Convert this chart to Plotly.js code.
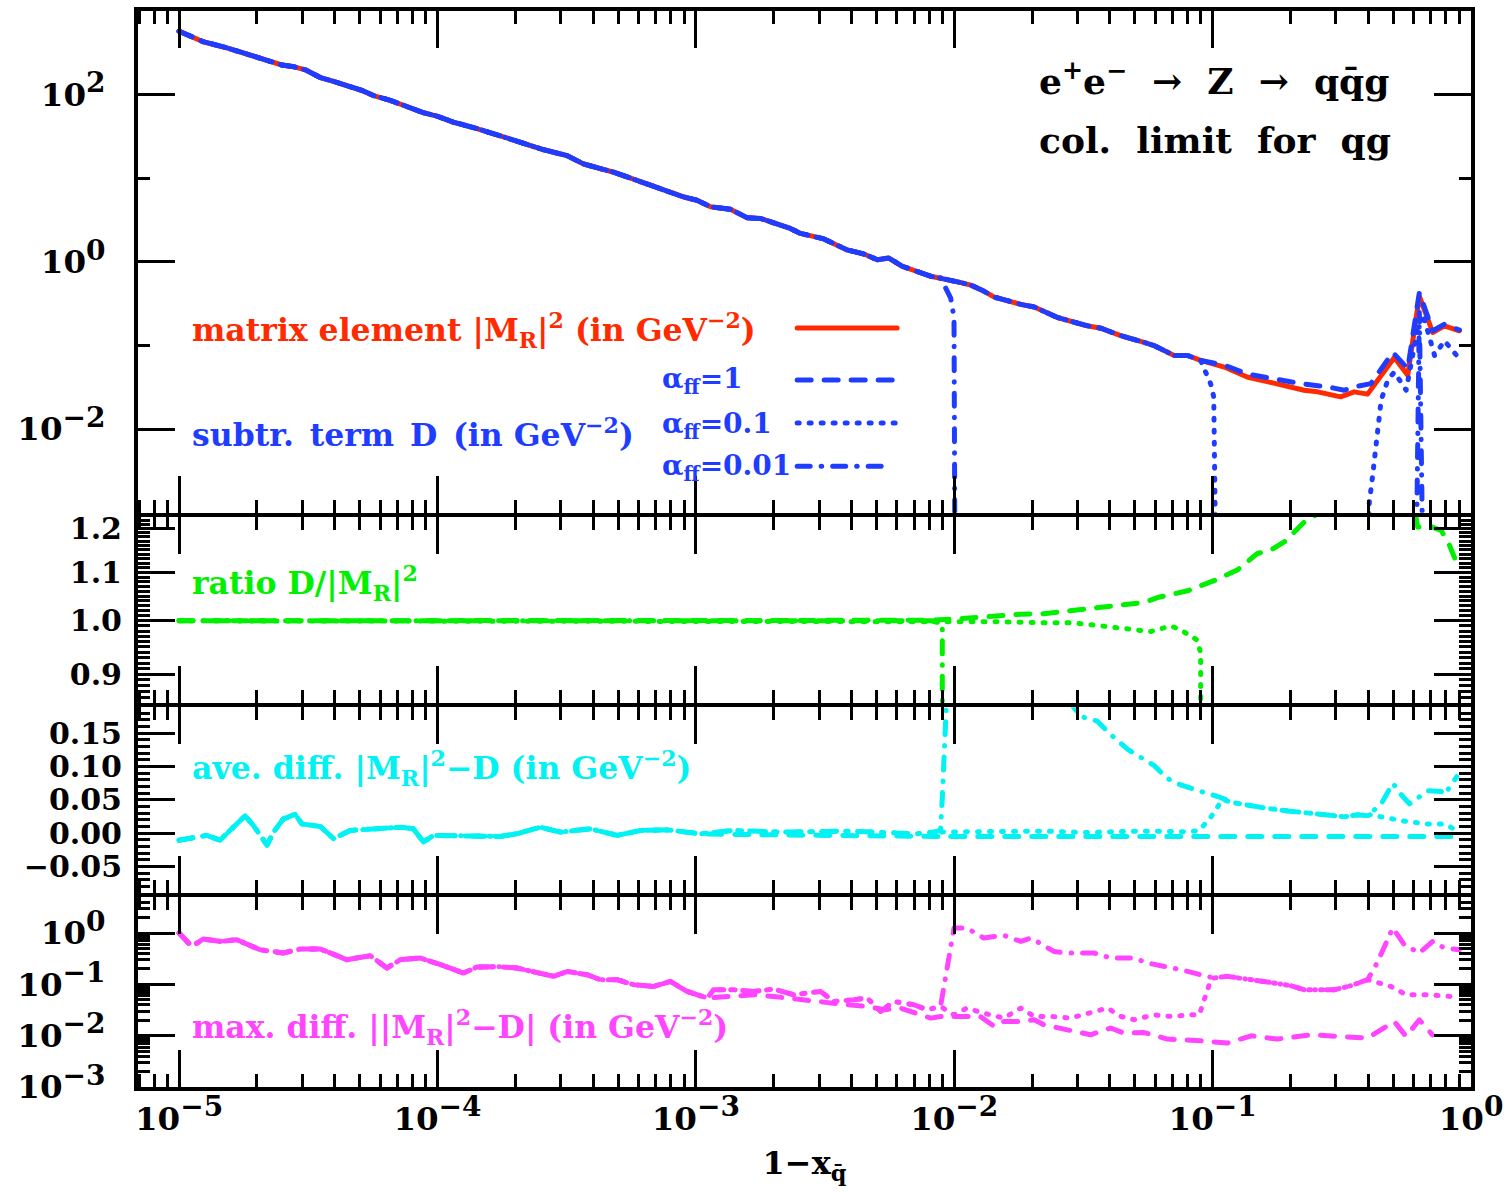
<!DOCTYPE html>
<html>
<head>
<meta charset="utf-8">
<script src="https://cdn.plot.ly/plotly-3.0.1.min.js"></script>
<style>
  html, body { margin: 0; padding: 0; background: #fff; }
  #chart { width: 1510px; height: 1192px; }
  #chart .js-line, #chart .shapelayer path { stroke-linecap: round; stroke-linejoin: round; }
</style>
</head>
<body>
<div id="chart"></div>
<script>
// ---------- panel 1: |M_R|^2 and subtraction term D (GeV^-2) ----------
const meX = [1.00e-5, 1.24e-5, 1.53e-5, 1.83e-5, 2.00e-5, 2.50e-5, 2.77e-5, 3.08e-5, 3.52e-5, 3.96e-5,
  5.11e-5, 5.66e-5, 6.56e-5, 8.83e-5, 9.95e-5, 1.15e-4, 1.30e-4, 1.42e-4, 1.75e-4, 2.29e-4,
  2.58e-4, 3.18e-4, 3.68e-4, 4.81e-4, 5.93e-4, 7.08e-4, 8.97e-4, 1.01e-3, 1.14e-3, 1.36e-3,
  1.58e-3, 1.78e-3, 2.32e-3, 2.54e-3, 3.13e-3, 3.85e-3, 4.47e-3, 5.04e-3, 5.58e-3, 6.30e-3,
  7.19e-3, 8.11e-3, 1.03e-2, 1.16e-2, 1.30e-2, 1.43e-2, 1.81e-2, 2.04e-2, 2.51e-2, 3.27e-2,
  3.69e-2, 4.41e-2, 5.43e-2, 5.93e-2, 7.10e-2, 8.00e-2, 8.99e-2, 0.111, 0.136, 0.178,
  0.226, 0.255, 0.313, 0.353, 0.398, 0.505, 0.569, 0.631, 0.711, 0.789, 0.902];
const meY = [573, 429, 363, 312, 280, 226, 216, 198, 160, 144,
  112, 97.3, 85.5, 60.7, 55.3, 47.0, 43.0, 39.3, 32.1, 24.4,
  21.9, 18.6, 14.8, 11.8, 9.40, 7.85, 5.97, 5.45, 4.55, 4.26,
  3.37, 3.30, 2.51, 2.19, 1.88, 1.39, 1.24, 1.06, 1.11, 0.885,
  0.771, 0.673, 0.577, 0.527, 0.447, 0.379, 0.310, 0.289, 0.216, 0.172,
  0.161, 0.131, 0.109, 0.0998, 0.0759, 0.0759, 0.0662, 0.0552, 0.0420, 0.0350,
  0.0292, 0.0279, 0.0243, 0.0279, 0.0262, 0.0718, 0.0440, 0.390, 0.143, 0.172, 0.150];

// D follows |M_R|^2 at small 1-x; these are the parts where it departs
const dA1TailX = [0.111, 0.136, 0.178, 0.219, 0.279, 0.323, 0.364, 0.410, 0.498, 0.569, 0.631, 0.711, 0.789, 0.902];
const dA1TailY = [0.0582, 0.0456, 0.0390, 0.0350, 0.0320, 0.0292, 0.0326, 0.0350, 0.0830, 0.0527, 0.427, 0.150, 0.180, 0.153];
const dA01TailX = [0.0982, 0.101, 0.111, 0.398, 0.404, 0.416, 0.435, 0.449, 0.476, 0.505, 0.561, 0.587, 0.623, 0.652, 0.723, 0.789, 0.902];
const dA01TailY = [0.0350, 0.0243, 0, 0, 1.32e-3, 2.74e-3, 0.0107, 0.0222, 0.0384, 0.0481, 0.0292, 0.0663, 0.164, 0.236, 0.0759, 0.114, 0.0692];
const dA001TailX = [8.85e-3, 9.68e-3, 9.98e-3, 1.03e-2, 0.569, 0.631, 0.711, 0.902];
const dA001TailY = [0.643, 0.372, 0.216, 0, 0, 0.25, 0, 0];

// ---------- panel 2: ratio D/|M_R|^2 ----------
const rA1X = [1e-5, 1e-4, 1e-3, 5e-3, 8.11e-3, 1.03e-2, 0.0151, 0.0181, 0.0222, 0.0318, 0.0403, 0.0543, 0.0612, 0.0800,
  0.104, 0.125, 0.149, 0.168, 0.190, 0.207, 0.226, 0.255, 0.313, 0.398, 0.505, 0.569, 0.622, 0.681, 0.767, 0.825, 0.864, 0.902];
const rA1Y = [1.000, 1.000, 1.000, 1.000, 1.001, 1.004, 1.011, 1.013, 1.014, 1.024, 1.031, 1.037, 1.047, 1.061,
  1.085, 1.106, 1.142, 1.150, 1.169, 1.191, 1.215, 1.235, 1.26, 1.32, 1.30, 1.35, 1.203, 1.207, 1.195, 1.161, 1.128, 1.106];
const rA01X = [1e-5, 1e-4, 1e-3, 5e-3, 8.11e-3, 1.03e-2, 0.0151, 0.0222, 0.0290, 0.0328, 0.0393, 0.0513, 0.0576, 0.0689, 0.0753, 0.0870, 0.0899, 0.0905];
const rA01Y = [1.000, 1.000, 1.000, 1.000, 1.000, 0.999, 0.998, 0.996, 0.996, 0.993, 0.988, 0.983, 0.979, 0.990, 0.982, 0.963, 0.939, 0];
const rA001X = [1e-5, 1e-4, 1e-3, 5e-3, 8.11e-3, 8.99e-3, 9.10e-3];
const rA001Y = [1.000, 1.000, 1.000, 1.000, 1.000, 0.995, 0];

// ---------- panel 3: average difference |M_R|^2 - D ----------
const aveX = [1.00e-5, 1.28e-5, 1.44e-5, 1.62e-5, 1.80e-5, 1.94e-5, 2.19e-5, 2.32e-5, 2.53e-5, 2.81e-5,
  2.99e-5, 3.52e-5, 3.96e-5, 4.59e-5, 5.33e-5, 7.18e-5, 8.06e-5, 8.83e-5, 9.66e-5, 1.30e-4,
  1.75e-4, 2.03e-4, 2.50e-4, 2.99e-4, 3.91e-4, 4.96e-4, 6.10e-4, 7.74e-4, 1.04e-3];
const aveY = [-0.0107, -0.0034, -0.0107, 0.0088, 0.0260, 0.0113, -0.0180, 0.0015, 0.0210, 0.0283,
  0.0137, 0.0100, -0.0083, 0.0040, 0.0054, 0.0088, 0.0066, -0.0132, -0.0034, -0.0034,
  -0.0050, -0.0010, 0.0088, 0.0015, 0.0064, -0.0034, 0.0040, 0.0049, -0.0010];
const aveA1TailX = [1.40e-3, 2.19e-3, 3.97e-3, 8.34e-3, 1.51e-2, 3.18e-2, 0.104, 0.313, 0.881];
const aveA1TailY = [-0.002, -0.003, -0.004, -0.005, -0.005, -0.005, -0.005, -0.005, -0.005];
const aveA01TailX = [1.40e-3, 2.19e-3, 3.97e-3, 7.19e-3, 8.34e-3, 1.51e-2, 2.22e-2, 3.18e-2, 5.43e-2, 8.00e-2,
  8.88e-2, 0.0982, 0.109, 0.121, 0.141, 0.163, 0.195, 0.240, 0.296, 0.323,
  0.364, 0.398, 0.410, 0.448, 0.561, 0.681, 0.789, 0.881];
const aveA01TailY = [0.004, 0.0015, 0.003, -0.001, 0.0015, 0.002, 0.003, 0.001, 0.003, 0.002,
  0.004, 0.0235, 0.050, 0.0455, 0.0406, 0.0371, 0.0333, 0.0293, 0.0260, 0.0245,
  0.0274, 0.0260, 0.028, 0.0245, 0.0176, 0.0137, 0.0137, 0.004];
const aveA001TailX = [1.40e-3, 2.19e-3, 3.97e-3, 7.19e-3, 8.34e-3, 8.85e-3, 8.99e-3, 9.27e-3, 1.03e-2, 1.43e-2,
  2.04e-2, 2.51e-2, 2.86e-2, 3.09e-2, 3.58e-2, 4.03e-2, 4.68e-2, 5.27e-2, 5.93e-2, 6.68e-2,
  7.53e-2, 8.99e-2, 0.104, 0.121, 0.141, 0.163, 0.195, 0.240, 0.296, 0.323,
  0.364, 0.398, 0.410, 0.448, 0.498, 0.537, 0.578, 0.681, 0.767, 0.789, 0.881];
const aveA001TailY = [0.004, 0.0015, 0.003, -0.001, 0.0015, 0.0044, 0.0528, 0.111, 0.58, 0.38,
  0.29, 0.22, 0.190, 0.175, 0.168, 0.148, 0.126, 0.114, 0.1016, 0.0821,
  0.0723, 0.0626, 0.0553, 0.0455, 0.0406, 0.0371, 0.0333, 0.0293, 0.0260, 0.0245,
  0.0274, 0.0260, 0.0308, 0.043, 0.0748, 0.0576, 0.044, 0.0635, 0.0626, 0.0576, 0.0846];

// ---------- panel 4: maximal difference ||M_R|^2 - D| ----------
const mdX = [1.00e-5, 1.12e-5, 1.24e-5, 1.44e-5, 1.67e-5, 2.06e-5, 2.53e-5, 2.94e-5, 3.52e-5, 4.46e-5,
  5.50e-5, 6.37e-5, 7.18e-5, 8.58e-5, 1.03e-4, 1.26e-4, 1.42e-4, 1.75e-4, 2.03e-4, 2.36e-4,
  2.82e-4, 3.18e-4, 3.80e-4, 4.27e-4, 4.96e-4, 5.75e-4, 6.87e-4, 7.97e-4, 9.25e-4, 1.11e-3];
const mdY = [1.00, 0.548, 0.764, 0.686, 0.740, 0.472, 0.408, 0.488, 0.488, 0.302,
  0.361, 0.208, 0.302, 0.326, 0.241, 0.166, 0.217, 0.220, 0.208, 0.178,
  0.143, 0.178, 0.154, 0.123, 0.123, 0.0982, 0.0910, 0.114, 0.0727, 0.0541];
const mdA1TailX = [1.40e-3, 1.68e-3, 2.00e-3, 2.54e-3, 3.32e-3, 3.85e-3, 4.61e-3, 5.35e-3, 6.19e-3, 8.11e-3,
  8.85e-3, 1.26e-2, 1.43e-2, 1.555e-2, 1.81e-2, 2.04e-2, 2.22e-2, 2.74e-2, 3.37e-2, 4.03e-2,
  4.54e-2, 5.43e-2, 6.68e-2, 8.99e-2, 0.114, 0.141, 0.178, 0.240, 0.296, 0.398,
  0.505, 0.561, 0.631, 0.709];
const mdA1TailY = [0.0581, 0.0627, 0.0581, 0.0501, 0.0432, 0.0400, 0.0371, 0.0320, 0.0345, 0.0220,
  0.0237, 0.0237, 0.0151, 0.0189, 0.0189, 0.0204, 0.0163, 0.0130, 0.0104, 0.0141,
  0.0112, 0.0115, 8.58e-3, 7.96e-3, 7.18e-3, 9.96e-3, 8.58e-3, 0.0104, 9.65e-3, 8.98e-3,
  0.0189, 9.65e-3, 0.0204, 0.0104];
const mdA01TailX = [1.17e-3, 1.40e-3, 1.68e-3, 2.00e-3, 2.39e-3, 3.04e-3, 3.42e-3, 4.09e-3, 4.61e-3, 5.19e-3,
  5.84e-3, 6.98e-3, 7.87e-3, 8.85e-3, 9.98e-3, 1.12e-2, 1.28e-2, 1.555e-2, 1.81e-2, 2.04e-2,
  2.36e-2, 2.82e-2, 3.48e-2, 3.92e-2, 4.41e-2, 4.97e-2, 5.93e-2, 6.89e-2, 8.24e-2, 8.88e-2,
  9.84e-2, 0.101, 0.114, 0.145, 0.173, 0.201, 0.226, 0.296, 0.343, 0.398,
  0.448, 0.490, 0.561, 0.681, 0.902];
const mdA01TailY = [0.0785, 0.0785, 0.0727, 0.0810, 0.0627, 0.0727, 0.0464, 0.0501, 0.0541, 0.0296,
  0.0464, 0.0400, 0.0320, 0.0371, 0.0255, 0.0345, 0.028, 0.0220, 0.0345, 0.0237,
  0.0237, 0.0220, 0.0296, 0.0345, 0.0237, 0.0204, 0.0255, 0.0237, 0.0255, 0.0255,
  0.123, 0.133, 0.143, 0.123, 0.106, 0.0939, 0.0785, 0.0785, 0.0939, 0.123,
  0.106, 0.0910, 0.0627, 0.0627, 0.0565];
const mdA001TailX = [1.17e-3, 1.40e-3, 1.68e-3, 2.00e-3, 2.39e-3, 3.04e-3, 3.42e-3, 4.09e-3, 4.61e-3, 5.19e-3,
  5.84e-3, 6.98e-3, 7.87e-3, 8.85e-3, 9.40e-3, 9.98e-3, 1.12e-2, 1.30e-2, 1.555e-2, 1.81e-2,
  1.98e-2, 2.43e-2, 2.74e-2, 3.48e-2, 4.03e-2, 4.97e-2, 5.60e-2, 6.68e-2, 7.53e-2, 8.99e-2,
  0.101, 0.114, 0.145, 0.173, 0.201, 0.226, 0.296, 0.343, 0.398, 0.433,
  0.498, 0.552, 0.631, 0.711, 0.789, 0.902];
const mdA001TailY = [0.0785, 0.0785, 0.0727, 0.0810, 0.0627, 0.0727, 0.0464, 0.0501, 0.0541, 0.0296,
  0.0464, 0.0400, 0.0320, 0.0371, 0.260, 1.25, 1.25, 0.80, 0.90, 0.686,
  0.80, 0.438, 0.408, 0.408, 0.326, 0.326, 0.260, 0.223, 0.193, 0.154,
  0.133, 0.143, 0.123, 0.106, 0.0939, 0.0785, 0.0785, 0.0939, 0.123, 0.260,
  1.25, 0.592, 0.408, 0.686, 0.510, 0.472];

// ---------- helpers ----------
const RED = '#ff2a00', BLUE = '#1f3dff', GREEN = '#00f000', CYAN = '#00f2f2', MAGENTA = '#ff45ff';
const DASH_A1 = '14px,13px', DASH_A01 = '2px,10px', DASH_A001 = '13px,11px,0.5px,11px';
const LW = 5;
// a vanishing value cannot sit on a log axis: send it far below the frame so the curve drops out of view
const FLOOR = 1e-12;
const onLog = a => a.map(v => (v > 0 ? v : FLOOR));
const upTo = (xs, ys, xmax) => {
  const n = xs.filter(v => v <= xmax).length;
  return [xs.slice(0, n), ys.slice(0, n)];
};

function line(x, y, panel, color, dash) {
  const s = panel === 1 ? '' : String(panel);
  return { type: 'scatter', mode: 'lines', x: x, y: y, xaxis: 'x' + s, yaxis: 'y' + s,
           line: { color: color, width: LW, dash: dash }, hoverinfo: 'skip', showlegend: false };
}

const [meXd, meYd] = upTo(meX, meY, 0.09);
const [meXe, meYe] = upTo(meX, meY, 8.2e-3);

const traces = [
  line(meX, meY, 1, RED, 'solid'),
  line(meXd.concat(dA1TailX), meYd.concat(dA1TailY), 1, BLUE, DASH_A1),
  line(meXd.concat(dA01TailX), onLog(meYd.concat(dA01TailY)), 1, BLUE, DASH_A01),
  line(meXe.concat(dA001TailX), onLog(meYe.concat(dA001TailY)), 1, BLUE, DASH_A001),

  line(rA1X, rA1Y, 2, GREEN, DASH_A1),
  line(rA01X, onLog(rA01Y), 2, GREEN, DASH_A01),
  line(rA001X, onLog(rA001Y), 2, GREEN, DASH_A001),

  line(aveX.concat(aveA1TailX), aveY.concat(aveA1TailY), 3, CYAN, DASH_A1),
  line(aveX.concat(aveA01TailX), aveY.concat(aveA01TailY), 3, CYAN, DASH_A01),
  line(aveX.concat(aveA001TailX), aveY.concat(aveA001TailY), 3, CYAN, DASH_A001),

  line(mdX.concat(mdA1TailX), mdY.concat(mdA1TailY), 4, MAGENTA, DASH_A1),
  line(mdX.concat(mdA01TailX), mdY.concat(mdA01TailY), 4, MAGENTA, DASH_A01),
  line(mdX.concat(mdA001TailX), mdY.concat(mdA001TailY), 4, MAGENTA, DASH_A001)
];

// ---------- axes ----------
const FONT = '"DejaVu Serif", "Liberation Serif", serif';
const tickFont = { family: FONT, size: 30, color: '#000', weight: 'bold' };
const powFont = { family: FONT, size: 32.5, color: '#000', weight: 'bold' };
const pow10 = e => '10<sup><span style="font-size:28px">' + (e < 0 ? '−' + (-e) : e) + '</span></sup>';

const decades = (lo, hi) => { const v = []; for (let e = lo; e <= hi; e++) v.push(Math.pow(10, e)); return v; };
const subDecades = (lo, hi) => { const v = []; for (let e = lo; e <= hi; e++) for (let d = 2; d <= 9; d++) v.push(d * Math.pow(10, e)); return v; };
const steps = (lo, hi, st) => { const v = []; for (let k = Math.round(lo / st); k <= Math.round(hi / st); k++) v.push(+(k * st).toFixed(4)); return v; };

const xMajor = decades(-5, 0);
const xLabels = [-5, -4, -3, -2, -1, 0].map(pow10);
const xMinor = subDecades(-6, -1);

const frame = { showline: true, linecolor: '#000', linewidth: 4, mirror: 'allticks', ticks: 'inside',
  ticklen: 37, tickwidth: 3, tickcolor: '#000', showgrid: false, zeroline: false, automargin: false, tickfont: tickFont };

function xAxis(anchor, labels) {
  return Object.assign({}, frame, { type: 'log', range: [-5.159, 0], anchor: anchor, tickmode: 'array',
    tickvals: xMajor, ticktext: xLabels, showticklabels: labels, tickfont: powFont,
    minor: { ticks: 'inside', ticklen: 13, tickwidth: 3, tickcolor: '#000', tickmode: 'array', tickvals: xMinor } });
}
function yAxis(anchor, domain, extra, minorVals) {
  return Object.assign({}, frame, { anchor: anchor, domain: domain, tickmode: 'array',
    minor: { ticks: 'inside', ticklen: 12, tickwidth: 3, tickcolor: '#000', tickmode: 'array', tickvals: minorVals } }, extra);
}

// panels stacked with a hairline gap so neighbouring frame lines merge into one
const GAP = 4 / 1076.6;
const layout = {
  width: 1510, height: 1192,
  margin: { l: 138, r: 39, t: 11, b: 105 },
  paper_bgcolor: '#fff', plot_bgcolor: '#fff',
  showlegend: false,
  xaxis: xAxis('y', false),
  xaxis2: xAxis('y2', false),
  xaxis3: xAxis('y3', false),
  xaxis4: Object.assign(xAxis('y4', true), {
    title: { text: '1−x<sub>q̄</sub>', font: { family: FONT, size: 32, color: '#000', weight: 'bold' }, standoff: 16 } }),
  yaxis: yAxis('x', [0.530 + GAP, 1], { type: 'log', range: [-3, 3], tickvals: [0.01, 1, 100],
    ticktext: [-2, 0, 2].map(pow10), ticklabelstandoff: 22, tickfont: powFont }, decades(-3, 3)),
  yaxis2: yAxis('x2', [0.353 + GAP, 0.530], { type: 'log', range: [Math.log10(0.85), Math.log10(1.228)],
    tickvals: [0.9, 1.0, 1.1, 1.2], ticktext: ['0.9', '1.0', '1.1', '1.2'], ticklabelstandoff: 6 }, steps(0.85, 1.23, 0.01)),
  yaxis3: yAxis('x3', [0.1765 + GAP, 0.353], { type: 'linear', range: [-0.09, 0.189],
    tickvals: [-0.05, 0, 0.05, 0.10, 0.15], ticktext: ['−0.05', '0.00', '0.05', '0.10', '0.15'], ticklabelstandoff: 6 }, steps(-0.09, 0.18, 0.01)),
  yaxis4: yAxis('x4', [0, 0.1765], { type: 'log', range: [-3, 0.7], tickvals: [0.001, 0.01, 0.1, 1],
    ticktext: [-3, -2, -1, 0].map(pow10), ticklabelstandoff: 22, tickfont: powFont }, subDecades(-3, 0)),
  shapes: [
    { type: 'line', xref: 'paper', yref: 'paper', x0: 0.4945, x1: 0.5695, y0: 0.7053, y1: 0.7053, line: { color: RED, width: LW } },
    { type: 'line', xref: 'paper', yref: 'paper', x0: 0.4945, x1: 0.5695, y0: 0.6570, y1: 0.6570, line: { color: BLUE, width: LW, dash: DASH_A1 } },
    { type: 'line', xref: 'paper', yref: 'paper', x0: 0.4945, x1: 0.5695, y0: 0.6170, y1: 0.6170, line: { color: BLUE, width: LW, dash: DASH_A01 } },
    { type: 'line', xref: 'paper', yref: 'paper', x0: 0.4945, x1: 0.5605, y0: 0.5770, y1: 0.5770, line: { color: BLUE, width: LW, dash: DASH_A001 } }
  ],
  annotations: []
};

function note(text, x, y, color, size) {
  return { text: text, xref: 'paper', yref: 'paper', x: x, y: y, xanchor: 'left', yanchor: 'middle',
           showarrow: false, font: { family: FONT, size: size || 31.5, color: color, weight: 'bold' } };
}
const SP = '\u00a0\u00a0';
const EN = '\u2002';
layout.annotations = [
  note('e<sup>+</sup>e<sup>−</sup>' + SP + '→' + SP + 'Z' + SP + '→' + SP + 'qq̄g', 0.6746, 0.9375, '#000', 36),
  note('col.' + SP + 'limit' + SP + 'for' + SP + 'qg', 0.6746, 0.8799, '#000', 36),
  note('matrix element |M<sub>R</sub>|<sup>2</sup> (in GeV<sup>−2</sup>)', 0.039, 0.7034, RED),
  note('subtr.' + EN + 'term' + EN + 'D' + EN + '(in GeV<sup>−2</sup>)', 0.039, 0.6087, BLUE),
  note('α<sub>ff</sub>=1', 0.3917, 0.6570, BLUE, 28),
  note('α<sub>ff</sub>=0.1', 0.3917, 0.6152, BLUE, 28),
  note('α<sub>ff</sub>=0.01', 0.3917, 0.5762, BLUE, 28),
  note('ratio D/|M<sub>R</sub>|<sup>2</sup>', 0.039, 0.4684, GREEN),
  note('ave. diff. |M<sub>R</sub>|<sup>2</sup>−D (in GeV<sup>−2</sup>)', 0.039, 0.2966, CYAN),
  note('max. diff. ||M<sub>R</sub>|<sup>2</sup>−D| (in GeV<sup>−2</sup>)', 0.039, 0.0560, MAGENTA)
];

Plotly.newPlot('chart', traces, layout, { staticPlot: true, displayModeBar: false });
</script>
</body>
</html>
